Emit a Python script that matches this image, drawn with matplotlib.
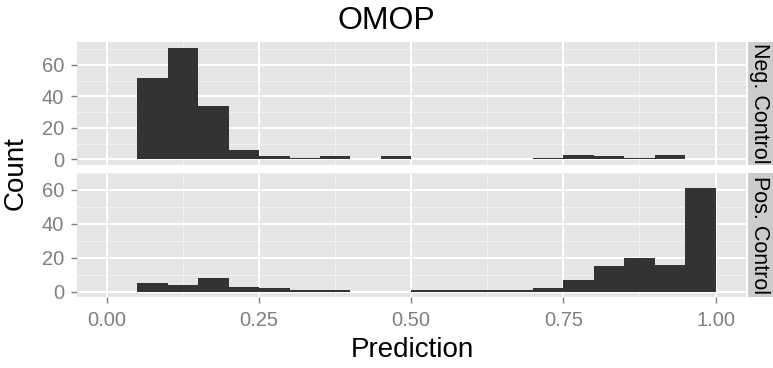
import matplotlib
matplotlib.use("Agg")
import matplotlib.pyplot as plt
import numpy as np

plt.rcParams['font.family'] = ['Liberation Sans', 'DejaVu Sans']

# histogram bins (left edges, width 0.05)
bin_left = [0.05, 0.10, 0.15, 0.20, 0.25, 0.30, 0.35, 0.40, 0.45, 0.50,
            0.55, 0.60, 0.65, 0.70, 0.75, 0.80, 0.85, 0.90, 0.95]
bin_width = 0.05
neg_counts = [52, 71, 34, 6, 2, 1, 2, 0, 2, 0, 0, 0, 0, 1, 3, 2, 1, 3, 0]
pos_counts = [5, 4, 8, 3, 2, 1, 1, 0, 0, 1, 1, 1, 1, 2, 7, 15, 20, 16, 61]
facet_names = ["Neg. Control", "Pos. Control"]
x_ticks = [0.0, 0.25, 0.5, 0.75, 1.0]
x_ticklabels = ["0.00", "0.25", "0.50", "0.75", "1.00"]
y_ticks = [0, 20, 40, 60]

W, H = 773, 368
fig = plt.figure(figsize=(W / 100, H / 100), dpi=100)

grey50 = '#7F7F7F'
left, right = 76.5 / W, 746 / W
panels = [(42, 165), (173, 297)]   # pixel top/bottom of each panel

axes = []
for (top, bot), counts, name in zip(panels, [neg_counts, pos_counts], facet_names):
    ax = fig.add_axes([left, 1 - bot / H, right - left, (bot - top) / H])
    ax.set_facecolor('#E5E5E5')
    ax.bar(bin_left, counts, width=bin_width, align='edge', color='#333333',
           linewidth=0, zorder=3)
    ymax = max(counts)
    ax.set_ylim(-0.05 * ymax, 1.05 * ymax)
    ax.set_xlim(-0.05, 1.05)
    ax.set_xticks(x_ticks)
    ax.set_xticks([0.125, 0.375, 0.625, 0.875], minor=True)
    ax.set_yticks(y_ticks)
    ax.set_yticks([10, 30, 50, 70], minor=True)
    ax.grid(which='major', color='white', linewidth=1.4, zorder=1)
    ax.grid(which='minor', color='#F2F2F2', linewidth=0.7, zorder=0)
    ax.set_axisbelow(True)
    for s in ax.spines.values():
        s.set_visible(False)
    ax.tick_params(axis='both', which='major', colors=grey50, labelsize=14.5,
                   length=4.5, width=1.0, labelcolor=grey50)
    ax.tick_params(axis='y', pad=4.5)
    ax.tick_params(axis='x', pad=5.5)
    ax.tick_params(which='minor', length=0)
    # strip
    sax = fig.add_axes([748 / W, 1 - bot / H, 26 / W, (bot - top) / H])
    sax.set_facecolor('#CCCCCC')
    sax.set_xticks([]), sax.set_yticks([])
    for s in sax.spines.values():
        s.set_visible(False)
    sax.text(0.45, 0.5, name, rotation=-90, ha='center', va='center',
             fontsize=15.5, transform=sax.transAxes)
    axes.append(ax)

axes[0].tick_params(axis='x', labelbottom=False, length=0)
axes[1].set_xticklabels(x_ticklabels)

fig.text(0.5, 1 - 21 / H, "OMOP", ha='center', va='center', fontsize=23)
fig.text(412 / W, 1 - 350 / H, "Prediction", ha='center', va='center', fontsize=20)
fig.text(16 / W, 1 - 173 / H, "Count", ha='center', va='center', rotation=90, fontsize=20)

fig.savefig("out.png", dpi=100, facecolor='white')
